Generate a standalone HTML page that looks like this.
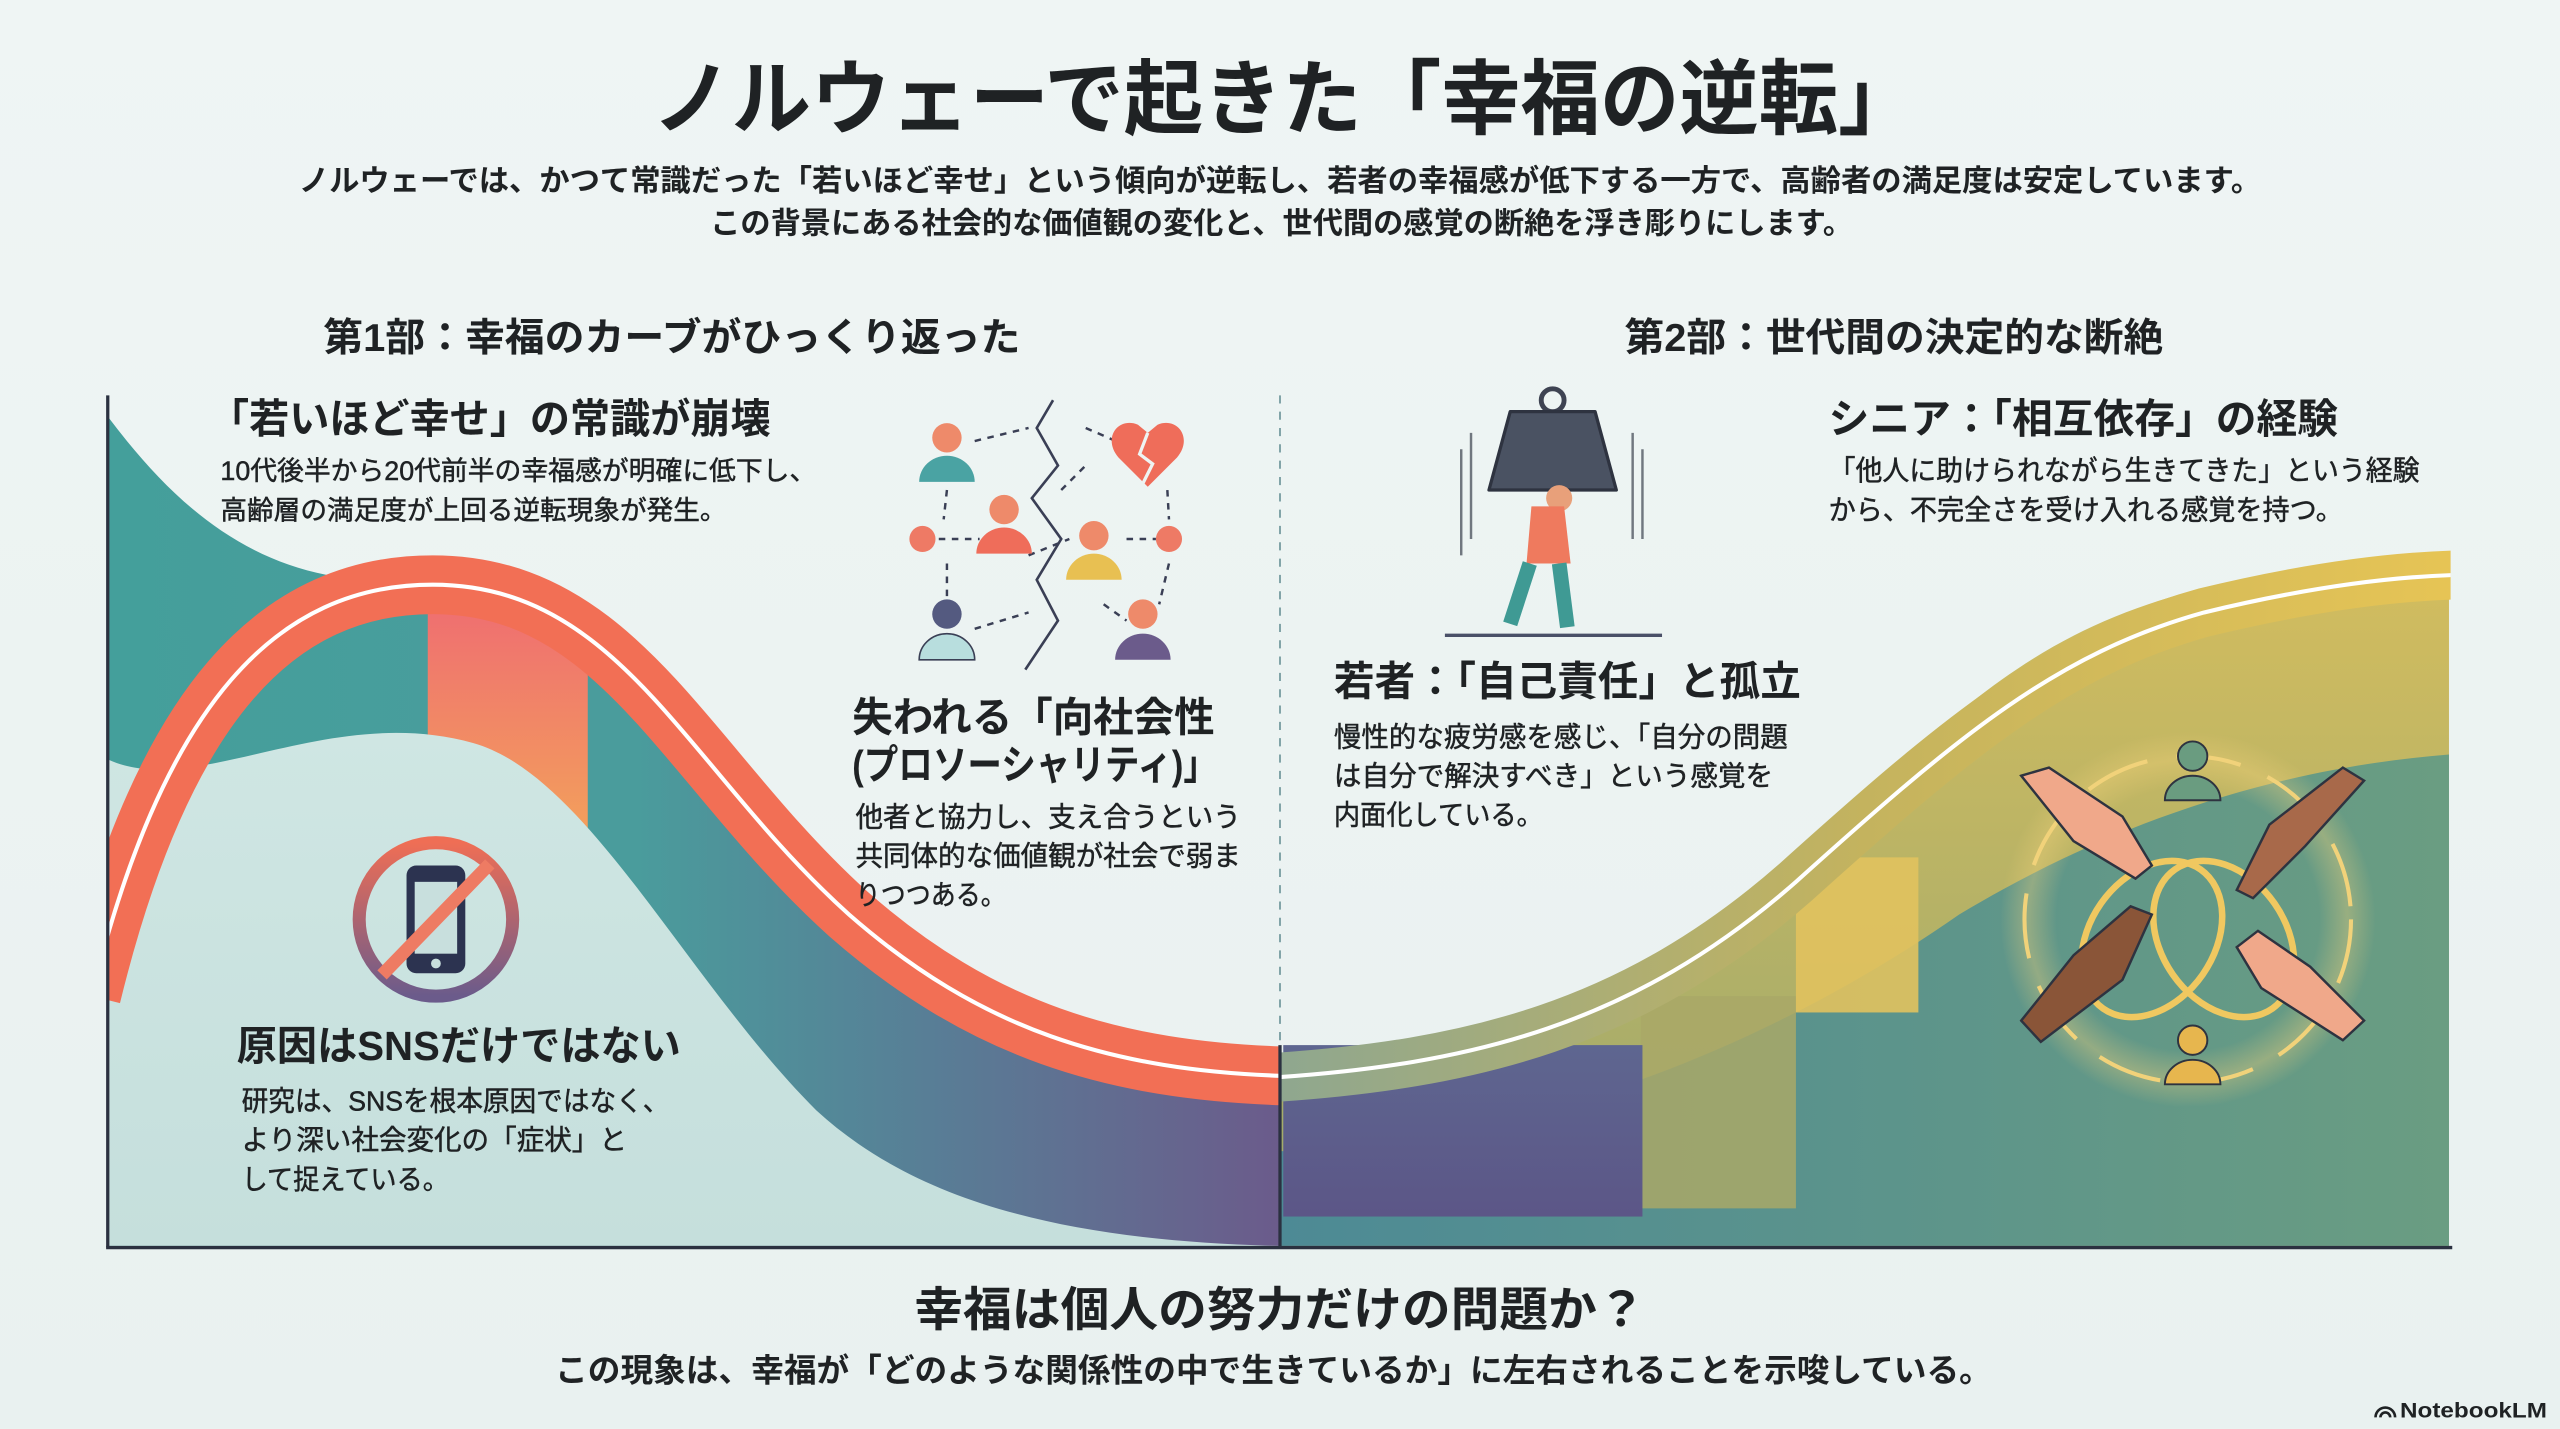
<!DOCTYPE html>
<html><head><meta charset="utf-8">
<style>
html,body{margin:0;padding:0;background:#eef4f3;}
svg{display:block;}
text{font-family:"Liberation Sans","Noto Sans CJK JP",sans-serif;fill:#1f2224;}
.b{font-weight:bold;}
.t{stroke:#1f2224;stroke-width:0.3;}
</style></head><body>
<svg width="2560" height="1429" viewBox="0 0 1568 875" xmlns="http://www.w3.org/2000/svg">
<defs>
<clipPath id="cl"><rect x="66" y="230" width="718" height="534"/></clipPath>
<clipPath id="cr"><rect x="784" y="230" width="717" height="534"/></clipPath>
<linearGradient id="bg" x1="0" y1="0" x2="0" y2="1"><stop offset="0" stop-color="#eff5f4"/><stop offset="1" stop-color="#e9f1f0"/></linearGradient>
<linearGradient id="lfill" x1="66" y1="0" x2="784" y2="0" gradientUnits="userSpaceOnUse">
<stop offset="0" stop-color="#449f9b"/><stop offset="0.45" stop-color="#4a9c9c"/><stop offset="0.7" stop-color="#587e96"/><stop offset="1" stop-color="#6b5b8b"/></linearGradient>
<linearGradient id="orect" x1="0" y1="0" x2="0" y2="1"><stop offset="0" stop-color="#ef7070"/><stop offset="1" stop-color="#f4a858"/></linearGradient>
<linearGradient id="light" x1="0" y1="0" x2="0" y2="1"><stop offset="0" stop-color="#cfe6e3"/><stop offset="1" stop-color="#c5dfdc"/></linearGradient>
<linearGradient id="olive" x1="0" y1="0" x2="0" y2="1"><stop offset="0" stop-color="#d4bd5e"/><stop offset="1" stop-color="#9aa86e"/></linearGradient>
<linearGradient id="green" x1="784" y1="0" x2="1500" y2="0" gradientUnits="userSpaceOnUse"><stop offset="0" stop-color="#4d8a95"/><stop offset="1" stop-color="#6a9d82"/></linearGradient>
<linearGradient id="ybar" x1="784" y1="0" x2="1500" y2="0" gradientUnits="userSpaceOnUse"><stop offset="0" stop-color="#8fa78f"/><stop offset="0.5" stop-color="#c4b35e"/><stop offset="1" stop-color="#e6c455"/></linearGradient>
<linearGradient id="purp" x1="0" y1="0" x2="0" y2="1"><stop offset="0" stop-color="#5e6690"/><stop offset="1" stop-color="#5c5687"/></linearGradient>
<linearGradient id="ban" x1="0" y1="0" x2="0" y2="1"><stop offset="0" stop-color="#ef6e55"/><stop offset="1" stop-color="#6b5b8b"/></linearGradient>
<radialGradient id="glow"><stop offset="0.7" stop-color="#f4d27a" stop-opacity="0"/><stop offset="0.85" stop-color="#f4d27a" stop-opacity="0.35"/><stop offset="1" stop-color="#f4d27a" stop-opacity="0"/></radialGradient>
</defs>
<rect width="1568" height="875" fill="url(#bg)"/>

<text x="787" y="78" class="b" font-size="50" text-anchor="middle" textLength="775" lengthAdjust="spacingAndGlyphs">ノルウェーで起きた「幸福の逆転」</text>
<text x="183" y="117" font-size="18.5" class="b" textLength="1202" lengthAdjust="spacingAndGlyphs">ノルウェーでは、かつて常識だった「若いほど幸せ」という傾向が逆転し、若者の幸福感が低下する一方で、高齢者の満足度は安定しています。</text>
<text x="435" y="143" font-size="18.5" class="b" textLength="700" lengthAdjust="spacingAndGlyphs">この背景にある社会的な価値観の変化と、世代間の感覚の断絶を浮き彫りにします。</text>

<text x="198" y="215" font-size="24" class="b" textLength="427" lengthAdjust="spacingAndGlyphs">第1部：幸福のカーブがひっくり返った</text>
<text x="995" y="215" font-size="24" class="b" textLength="330" lengthAdjust="spacingAndGlyphs">第2部：世代間の決定的な断絶</text>

<g clip-path="url(#cl)">
<path d="M66,255 C100,300 140,340 200,352 L265,352 C380,352 420,470 520,560 C600,630 680,655 784,660 L784,763 L66,763 Z" fill="url(#lfill)"/>
<rect x="262" y="375" width="98" height="160" fill="url(#orect)"/>
<path d="M66,465 C120,490 200,430 290,455 C360,475 420,600 500,680 C560,735 650,760 784,763 L66,763 Z" fill="url(#light)"/>
<path d="M56,610 C100,430 170,358 265,358 C380,358 420,470 520,560 C600,630 680,656 790,659" fill="none" stroke="#f26f55" stroke-width="36"/>
<path d="M56,610 C100,430 170,358 265,358 C380,358 420,470 520,560 C600,630 680,656 790,659" fill="none" stroke="#ffffff" stroke-width="2.5"/>
</g>

<g clip-path="url(#cr)">
<path d="M784,648 C900,640 1000,620 1100,530 C1200,430 1250,385 1350,360 C1420,345 1470,340 1500,338 L1500,763 L784,763 Z" fill="url(#olive)"/>
<path d="M784,705 C950,700 1100,630 1200,560 C1300,500 1400,470 1500,462 L1500,763 L784,763 Z" fill="url(#green)"/>
<rect x="1005" y="610" width="95" height="130" fill="#a9a867" opacity="0.85"/>
<rect x="1100" y="525" width="75" height="95" fill="#e1c25e" opacity="0.9"/>
<rect x="786" y="640" width="220" height="105" fill="url(#purp)"/>
<path d="M778,660 C900,652 1000,628 1100,540 C1200,450 1260,400 1350,375 C1420,358 1470,353 1505,352" fill="none" stroke="url(#ybar)" stroke-width="30"/>
<path d="M778,660 C900,652 1000,628 1100,540 C1200,450 1260,400 1350,375 C1420,358 1470,353 1505,352" fill="none" stroke="#ffffff" stroke-width="2.5"/>
</g>

<line x1="66" y1="242" x2="66" y2="764" stroke="#2b3140" stroke-width="2"/>
<line x1="65" y1="764" x2="1502" y2="764" stroke="#2b3140" stroke-width="2"/>
<line x1="784" y1="242" x2="784" y2="640" stroke="#7fa3a6" stroke-width="1.2" stroke-dasharray="5,5"/>
<line x1="784" y1="640" x2="784" y2="764" stroke="#2b3140" stroke-width="2"/>

<circle cx="267" cy="563" r="47" fill="none" stroke="url(#ban)" stroke-width="8"/>
<rect x="249" y="530" width="36" height="66" rx="6" fill="#2c3350"/>
<rect x="254" y="540" width="26" height="44" fill="#c8dfdd"/>
<circle cx="267" cy="590" r="3" fill="#c8dfdd"/>
<line x1="234" y1="597" x2="300" y2="529" stroke="#ee7b63" stroke-width="8"/>

<g stroke="#3a3f55" stroke-width="1.5" stroke-dasharray="4,4" fill="none">
<path d="M597,270 L630,262"/><path d="M665,262 L688,272"/><path d="M580,300 L578,318"/><path d="M575,330 L600,330"/><path d="M690,330 L708,330"/>
<path d="M580,345 L580,368"/><path d="M597,385 L630,375"/><path d="M676,370 L690,380"/><path d="M630,340 L655,330"/><path d="M715,300 L716,318"/><path d="M650,300 L665,285"/><path d="M716,345 L710,370"/>
</g>
<path d="M645,245 L635,262 L648,285 L632,305 L650,330 L635,355 L648,380 L628,410" fill="none" stroke="#3a3f55" stroke-width="1.6"/>
<g>
<circle cx="580" cy="268" r="9" fill="#ee8a6a"/><path d="M563,295 a17,16 0 0 1 34,0 Z" fill="#4aa3a3"/>
<circle cx="615" cy="312" r="9" fill="#ee8a6a"/><path d="M598,339 a17,16 0 0 1 34,0 Z" fill="#ef6d5a"/>
<circle cx="670" cy="328" r="9" fill="#ee8a6a"/><path d="M653,355 a17,16 0 0 1 34,0 Z" fill="#e8c052"/>
<circle cx="580" cy="376" r="9" fill="#545a80"/><path d="M563,404 a17,16 0 0 1 34,0 Z" fill="#b8dede" stroke="#3a3f55"/>
<circle cx="700" cy="376" r="9" fill="#ee8a6a"/><path d="M683,404 a17,16 0 0 1 34,0 Z" fill="#6b5b8b"/>
<circle cx="565" cy="330" r="8" fill="#ee7a65"/><circle cx="716" cy="330" r="8" fill="#ee7a65"/>
<path d="M703,298 L685,280 C675,268 685,255 697,260 L703,265 L709,260 C721,255 731,268 721,280 Z" fill="#ef6d5a"/>
<path d="M703,265 L698,278 L706,284 L700,296" fill="none" stroke="#eef4f3" stroke-width="2"/>
</g>

<circle cx="951" cy="245" r="7" fill="none" stroke="#3e4352" stroke-width="3"/>
<path d="M925,252 L977,252 L990,300 L912,300 Z" fill="#4a5262" stroke="#2e3340" stroke-width="2" stroke-linejoin="round"/>
<line x1="901" y1="265" x2="901" y2="330" stroke="#70777f" stroke-width="1.5"/><line x1="895" y1="275" x2="895" y2="340" stroke="#70777f" stroke-width="1.5"/>
<line x1="1000" y1="265" x2="1000" y2="330" stroke="#70777f" stroke-width="1.5"/><line x1="1006" y1="275" x2="1006" y2="330" stroke="#70777f" stroke-width="1.5"/>
<circle cx="955" cy="305" r="8" fill="#e8a07a"/>
<path d="M938,310 L958,310 L962,345 L935,345 Z" fill="#ef7a5e"/>
<path d="M937,345 L925,382 M955,345 L960,384" stroke="#3f9a94" stroke-width="9" fill="none"/>
<line x1="885" y1="389" x2="1018" y2="389" stroke="#4a5068" stroke-width="2"/>

<circle cx="1340" cy="563" r="115" fill="url(#glow)"/>
<circle cx="1340" cy="563" r="100" fill="none" stroke="#f1d27a" stroke-width="2.5" stroke-dasharray="40,18"/>
<ellipse cx="1318" cy="575" rx="38" ry="52" fill="none" stroke="#f0c860" stroke-width="4" transform="rotate(35 1318 575)"/>
<ellipse cx="1362" cy="575" rx="38" ry="52" fill="none" stroke="#f0c860" stroke-width="4" transform="rotate(-35 1362 575)"/>
<circle cx="1343" cy="463" r="9" fill="#6a9c80" stroke="#2e3340" stroke-width="1.2"/><path d="M1326,490 a17,15 0 0 1 34,0 Z" fill="#6a9c80" stroke="#2e3340" stroke-width="1.2"/>
<circle cx="1343" cy="637" r="9" fill="#e7b64e" stroke="#2e3340" stroke-width="1.2"/><path d="M1326,664 a17,15 0 0 1 34,0 Z" fill="#e7b64e" stroke="#2e3340" stroke-width="1.2"/>
<path d="M1238,475 L1255,470 L1300,500 L1318,530 L1308,538 L1270,515 Z" fill="#f0a88a" stroke="#2e3340" stroke-width="1.5"/>
<path d="M1448,478 L1435,470 L1390,505 L1370,545 L1380,550 L1412,518 Z" fill="#a8694a" stroke="#2e3340" stroke-width="1.5"/>
<path d="M1238,625 L1250,638 L1300,600 L1318,560 L1305,555 L1270,585 Z" fill="#8a5538" stroke="#2e3340" stroke-width="1.5"/>
<path d="M1448,625 L1435,637 L1385,605 L1370,580 L1383,570 L1415,592 Z" fill="#f0a88a" stroke="#2e3340" stroke-width="1.5"/>

<text x="128" y="265" font-size="25" class="b" textLength="344" lengthAdjust="spacingAndGlyphs">「若いほど幸せ」の常識が崩壊</text>
<text x="135" y="294" font-size="16.5" class="t" textLength="365" lengthAdjust="spacingAndGlyphs">10代後半から20代前半の幸福感が明確に低下し、</text>
<text x="135" y="318" font-size="16.5" class="t" textLength="310" lengthAdjust="spacingAndGlyphs">高齢層の満足度が上回る逆転現象が発生。</text>

<text x="522" y="448" font-size="25" class="b" textLength="222" lengthAdjust="spacingAndGlyphs">失われる「向社会性</text>
<text x="522" y="477" font-size="25" class="b" textLength="224" lengthAdjust="spacingAndGlyphs">(プロソーシャリティ)」</text>
<text x="524" y="506" font-size="17" class="t" textLength="236" lengthAdjust="spacingAndGlyphs">他者と協力し、支え合うという</text>
<text x="524" y="530" font-size="17" class="t" textLength="236" lengthAdjust="spacingAndGlyphs">共同体的な価値観が社会で弱ま</text>
<text x="524" y="554" font-size="17" class="t" textLength="92" lengthAdjust="spacingAndGlyphs">りつつある。</text>

<text x="145" y="649" font-size="25" class="b" textLength="272" lengthAdjust="spacingAndGlyphs">原因はSNSだけではない</text>
<text x="148" y="680" font-size="17" class="t" textLength="262" lengthAdjust="spacingAndGlyphs">研究は、SNSを根本原因ではなく、</text>
<text x="148" y="704" font-size="17" class="t" textLength="236" lengthAdjust="spacingAndGlyphs">より深い社会変化の「症状」と</text>
<text x="148" y="728" font-size="17" class="t" textLength="127" lengthAdjust="spacingAndGlyphs">して捉えている。</text>

<text x="817" y="426" font-size="25" class="b" textLength="286" lengthAdjust="spacingAndGlyphs">若者：「自己責任」と孤立</text>
<text x="817" y="457" font-size="17" class="t" textLength="278" lengthAdjust="spacingAndGlyphs">慢性的な疲労感を感じ、「自分の問題</text>
<text x="817" y="481" font-size="17" class="t" textLength="269" lengthAdjust="spacingAndGlyphs">は自分で解決すべき」という感覚を</text>
<text x="817" y="505" font-size="17" class="t" textLength="128" lengthAdjust="spacingAndGlyphs">内面化している。</text>

<text x="1120" y="265" font-size="25" class="b" textLength="312" lengthAdjust="spacingAndGlyphs">シニア：「相互依存」の経験</text>
<text x="1120" y="294" font-size="17" class="t" textLength="362" lengthAdjust="spacingAndGlyphs">「他人に助けられながら生きてきた」という経験</text>
<text x="1120" y="318" font-size="17" class="t" textLength="315" lengthAdjust="spacingAndGlyphs">から、不完全さを受け入れる感覚を持つ。</text>

<text x="784" y="812" font-size="29" class="b" text-anchor="middle" textLength="448" lengthAdjust="spacingAndGlyphs">幸福は個人の努力だけの問題か？</text>
<text x="780" y="846" font-size="20" class="b" text-anchor="middle" textLength="880" lengthAdjust="spacingAndGlyphs">この現象は、幸福が「どのような関係性の中で生きているか」に左右されることを示唆している。</text>

<path d="M1455,868 a6,6 0 0 1 12,0 M1458,868 a3,3 0 0 1 6,0" fill="none" stroke="#1f2224" stroke-width="1.6"/>
<text x="1470" y="868" font-size="13" class="b" textLength="90" lengthAdjust="spacingAndGlyphs">NotebookLM</text>
</svg>
</body></html>
